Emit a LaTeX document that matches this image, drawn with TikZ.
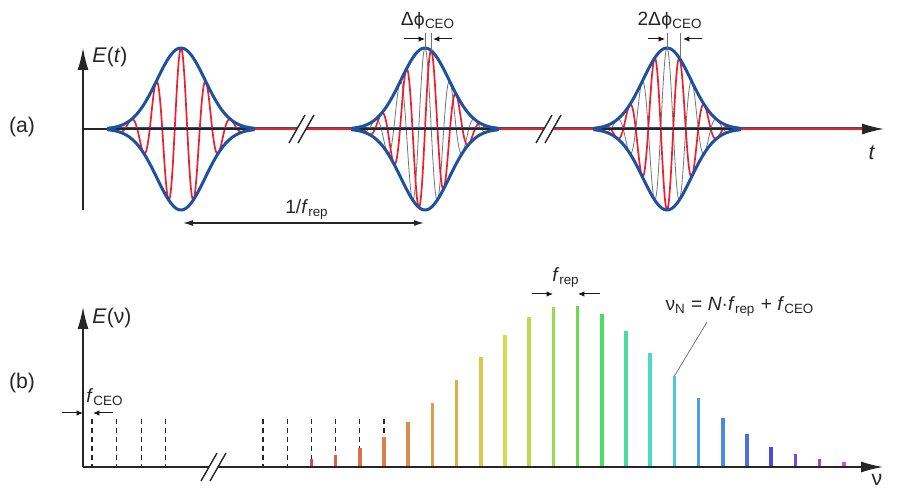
\documentclass[tikz,border=0pt]{standalone}
\usepackage{fontspec}
\setmainfont{Liberation Sans}
\newfontfamily\dvsans{DejaVu Sans}
\usetikzlibrary{arrows.meta, positioning, calc}
\definecolor{envblue}{RGB}{30,82,160}
\definecolor{carred}{RGB}{236,32,44}
\newcommand{\phiceo}{Δ{\dvsans\fontsize{8.6}{10}\selectfont ϕ}\textsubscript{CEO}}

\begin{document}
\begin{tikzpicture}[x=0.5pt, y=-0.5pt,
  declare function={env(\t)=81*exp(-0.5*(\t/24)*(\t/24));},
  lbl/.style={font=\fontsize{9.6}{11}\selectfont, text=black!85, inner sep=0pt},
  big/.style={lbl, font=\fontsize{10.6}{12}\selectfont},
  axis/.style={line width=0.75pt, draw=black!85, -{Latex[length=11pt, width=5.5pt]}},
  envl/.style={line width=1.5pt, draw=envblue, line cap=round},
  carrier/.style={line width=0.85pt, draw=carred},
  ref/.style={line width=0.4pt, draw=black!55},
  tick/.style={line width=0.5pt, draw=black!90, -{Latex[length=3.2pt, width=2.8pt]}},
  span/.style={line width=0.6pt, draw=black!85, {Latex[length=5pt, width=3pt]}-{Latex[length=5pt, width=3pt]}},
  comb/.style={line width=0.55pt, draw=black!85, dash pattern=on 2.5pt off 2pt},
  tooth/.style={line width=1.8pt},
  brk/.style={line width=0.7pt, draw=black!85}]
  \useasboundingbox (0,0) rectangle (909,490);

  % (a) pulse train
  \coordinate (to) at (83,210);
  \coordinate (ty) at (83,48);
  \coordinate (tx0) at (83,129);
  \coordinate (tx) at (884,129);
  \draw[envl] (108,129) -- (862,129);
  \foreach \c in {425,667}
    \draw[ref] plot[domain=\c-72:\c+72, samples=260] (\x, {129-env(\x-\c)*cos(14.4*(\x-\c))});
  \foreach \c/\ph in {181/0, 425/90, 667/180}
    \draw[carrier] plot[domain=\c-72:\c+72, samples=260] (\x, {129-env(\x-\c)*cos(14.4*(\x-\c)-\ph)});
  \draw[axis] (to) -- (ty);
  \draw[axis] (tx0) -- (tx);
  \draw[carrier] (108,129) -- (112,129) (250,129) -- (356,129) (494,129) -- (598,129) (736,129) -- (862,129);
  \foreach \c in {181,425,667} {
    \draw[envl] plot[domain=\c-73:\c+73, samples=90] (\x, {129-env(\x-\c)});
    \draw[envl] plot[domain=\c-73:\c+73, samples=90] (\x, {129+env(\x-\c)});
  }
  \node[big] (la) at (22,127) {(a)};
  \node[big] (lEt) at (110,57) {\textit{E}(\textit{t})};
  \node[big] (lt) at (872,153) {\textit{t}};

  \coordinate (pa) at (183,223);
  \coordinate (pb) at (424,223);
  \draw[span] (pa) -- (pb);
  \node[lbl] (lrep) at (307,209) {1/\textit{f}\textsubscript{rep}};

  \coordinate (g2) at (425,50);
  \coordinate (r2) at (431,51);
  \draw[ref] (g2) -- ++(0,-17);
  \draw[ref] (r2) -- ++(0,-18);
  \coordinate (d2l) at (404,39);
  \coordinate (d2r) at (452,39);
  \draw[tick] (d2l) -- (g2 |- d2l);
  \draw[tick] (d2r) -- ($(r2 |- d2r)+(2,0)$);
  \node[lbl] (ldp) at (428,21) {\phiceo};

  \coordinate (g3) at (667,50);
  \coordinate (r3) at (680,58);
  \draw[ref] (g3) -- ++(0,-17);
  \draw[ref] (r3) -- ++(0,-25);
  \coordinate (d3l) at (648,39);
  \coordinate (d3r) at (702,39);
  \draw[tick] (d3l) -- ($(g3 |- d3l)+(-2,0)$);
  \draw[tick] (d3r) -- ($(r3 |- d3r)+(3,0)$);
  \node[lbl] (l2dp) at (670,21) {2\phiceo};

  % (b) frequency comb
  \coordinate (bo) at (83,467);
  \coordinate (by) at (83,307);
  \coordinate (bx) at (883,467);
  \foreach \x in {92,116.6,141.2,165.8}
    \draw[comb] (\x,419) -- (\x,467);
  \foreach \m in {0,...,5}
    \draw[comb] ({263+24.2*\m},419) -- ({263+24.2*\m},467);
  \foreach \m/\h/\hu in {2/8/0, 3/12/8, 4/19/16, 5/30/22, 6/45/28, 7/64/35, 8/87/42,
      9/110/52, 10/132/62, 11/150/74, 12/160/88, 13/161/106, 14/153/132, 15/136/156,
      16/114/172, 17/91/188, 18/69/204, 19/49/214, 20/33/225, 21/20/240, 22/13/255,
      23/8/272, 24/5/300} {
    \definecolor{tchsb}{Hsb}{\hu,0.66,0.86}
    \colorlet{tc}[rgb]{tchsb}
    \draw[tooth, draw=tc] ({263+24.2*\m},467) -- ++(0,-\h);
  }
  \draw[axis] (bo) -- (by);
  \draw[axis] (bo) -- (bx);
  \node[big] (lb) at (22,383) {(b)};
  \node[big] (lEv) at (112,318) {\textit{E}(ν)};
  \node[big, anchor=base] (lnu) at (877,486) {ν};

  \coordinate (c0l) at (62,413);
  \coordinate (c0r) at (113,413);
  \draw[tick] (c0l) -- (bo |- c0l);
  \draw[tick] (c0r) -- (93,413);
  \node[lbl] (lceo) at (105,397) {\textit{f}\textsubscript{CEO}};

  \coordinate (fl) at (532,294);
  \coordinate (fr) at (600,294);
  \draw[tick] (fl) -- (553,294);
  \draw[tick] (fr) -- (578,294);
  \node[lbl] (lfrep) at (566,277) {\textit{f}\textsubscript{rep}};

  \node[lbl] (nuN) at (740,306) {ν\textsubscript{N} = \textit{N}·\textit{f}\textsubscript{rep} + \textit{f}\textsubscript{CEO}};
  \coordinate (nuNfoot) at (707,322);
  \coordinate (n17) at ({263+24.2*17},376);
  \draw[ref] (nuNfoot) -- (n17);

  % axis breaks
  \foreach \bx/\by in {302/129, 549/129, 214/467} {
    \fill[white] (\bx-13,\by+14) -- (\bx+3,\by-14) -- (\bx+12,\by-14) -- (\bx-4,\by+14) -- cycle;
    \draw[brk] (\bx-13,\by+14) -- (\bx+3,\by-14) (\bx-4,\by+14) -- (\bx+12,\by-14);
  }
\end{tikzpicture}
\end{document}
